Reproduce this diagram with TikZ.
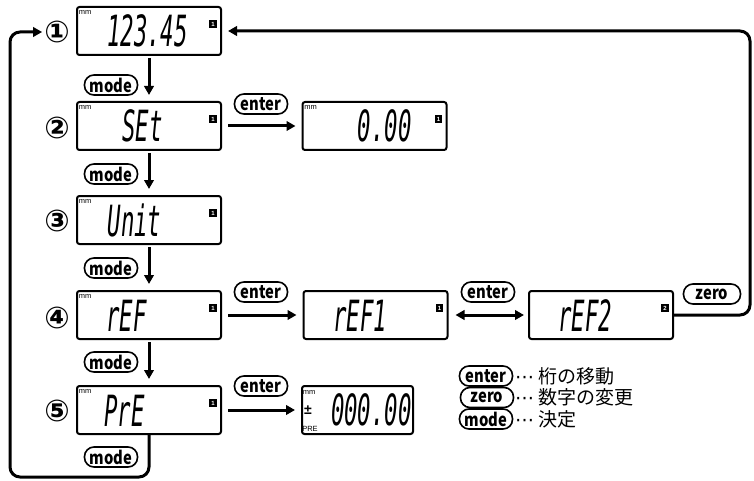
\documentclass[tikz,border=0pt]{standalone}
\usepackage{fontspec}
\setmainfont{Noto Sans CJK JP}
\newfontfamily\segfont{DejaVu Sans Mono}
\newfontfamily\labfont{Liberation Sans}
\newfontfamily\circfont{DejaVu Sans}
\usetikzlibrary{arrows.meta}
\newcommand{\segtxt}[1]{\scalebox{0.52}[1]{\segfont\fontsize{43}{43}\selectfont\itshape #1}}
\newcommand{\ptxt}[1]{\scalebox{0.82}[1]{#1}}
\tikzset{
  disp/.style={draw, line width=2pt, rounded corners=2.5pt, minimum width=144pt, minimum height=48pt, inner sep=0pt},
  pill/.style={draw, line width=1.6pt, rounded corners=9.5pt, minimum width=53pt, minimum height=20pt, inner sep=0.5pt, font=\bfseries\fontsize{18}{18}\selectfont},
  seg/.style={inner sep=0pt},
  ind/.style={fill=black, minimum size=7.5pt, inner sep=0pt, text=white, font=\labfont\bfseries\fontsize{6}{6}\selectfont},
  mmlab/.style={inner sep=0pt, font=\labfont\fontsize{7.5}{7.5}\selectfont},
  circnum/.style={inner sep=0pt, font=\circfont\bfseries\fontsize{30}{30}\selectfont},
  legtxt/.style={inner sep=0pt, anchor=west, font=\fontsize{19}{19}\selectfont},
  arr/.style={line width=3pt, -{Triangle[length=9pt,width=9.5pt]}},
  darr/.style={line width=3pt, {Triangle[length=9pt,width=9.5pt]}-{Triangle[length=9pt,width=9.5pt]}}
}
\begin{document}
\begin{tikzpicture}[x=1pt,y=-1pt]
\useasboundingbox (0,0) rectangle (754,481);

% displays
\node[disp] (d1) at (149,31) {};
\node[disp] (d2) at (149,126) {};
\node[disp] (d3) at (149,220) {};
\node[disp] (d4) at (149,315) {};
\node[disp] (d5) at (149,410) {};
\node[disp] (d2b) at (374.5,126) {};
\node[disp] (d4b) at (375.5,315) {};
\node[disp] (d4c) at (601,315) {};
\node[disp, minimum width=111pt] (d5b) at (357.5,410) {};

% mm labels
\node[mmlab] (m1) at ([shift={(9,6)}]d1.north west) {mm};
\node[mmlab] (m2) at ([shift={(9,6)}]d2.north west) {mm};
\node[mmlab] (m3) at ([shift={(9,6)}]d3.north west) {mm};
\node[mmlab] (m4) at ([shift={(9,6)}]d4.north west) {mm};
\node[mmlab] (m5) at ([shift={(9,6)}]d5.north west) {mm};
\node[mmlab] (m2b) at ([shift={(9,6)}]d2b.north west) {mm};
\node[mmlab] (m5b) at ([shift={(8,7)}]d5b.north west) {mm};
\node[inner sep=0pt, font=\labfont\bfseries\fontsize{14}{14}\selectfont] (pm5b) at ([shift={(7,0)}]d5b.west) {±};
\node[mmlab] (pre5b) at ([shift={(9,-6)}]d5b.south west) {PRE};

% indicators
\node[ind] (i1) at ([shift={(-9,18)}]d1.north east) {1};
\node[ind] (i2) at ([shift={(-9,18)}]d2.north east) {1};
\node[ind] (i3) at ([shift={(-9,18)}]d3.north east) {1};
\node[ind] (i4) at ([shift={(-9,18)}]d4.north east) {1};
\node[ind] (i5) at ([shift={(-9,18)}]d5.north east) {1};
\node[ind] (i2b) at ([shift={(-9,18)}]d2b.north east) {1};
\node[ind] (i4b) at ([shift={(-9,18)}]d4b.north east) {1};
\node[ind] (i4c) at ([shift={(-9,18)}]d4c.north east) {2};

% display texts
\node[seg] (t1) at (147.5,31) {\segtxt{123.45}};
\node[seg] (t2) at (142.5,126) {\segtxt{SEt}};
\node[seg] (t3) at (134.5,220) {\segtxt{Unit}};
\node[seg] (t4) at (126.5,316) {\segtxt{rEF}};
\node[seg] (t5) at (124.5,411) {\segtxt{PrE}};
\node[seg, anchor=east] (t2b) at (412,126) {\segtxt{0.00}};
\node[seg] (t4b) at (360,316) {\segtxt{rEF1}};
\node[seg] (t4c) at (585,316) {\segtxt{rEF2}};
\node[seg, anchor=east] (t5b) at (412,410) {\segtxt{000.00}};

% circled numbers
\node[circnum] (c1) at (57,32) {①};
\node[circnum] (c2) at (57,128) {②};
\node[circnum] (c3) at (57,221) {③};
\node[circnum] (c4) at (57,318) {④};
\node[circnum] (c5) at (57,411) {⑤};

% mode pills
\node[pill] (p1) at (111,85) {\ptxt{mode}};
\node[pill] (p2) at (111,174) {\ptxt{mode}};
\node[pill] (p3) at (111,268) {\ptxt{mode}};
\node[pill] (p4) at (111,362) {\ptxt{mode}};
\node[pill] (p5) at (111,457) {\ptxt{mode}};

% enter / zero pills
\node[pill] (e2) at (261,104) {\ptxt{enter}};
\node[pill] (e4) at (261,292) {\ptxt{enter}};
\node[pill] (e4b) at (488,292) {\ptxt{enter}};
\node[pill] (e5) at (261,386) {\ptxt{enter}};
\node[pill, minimum width=57pt] (z4) at (712,294) {\ptxt{zero}};

% vertical mode arrows
\draw[arr, shorten <=2pt, shorten >=6pt] (d1) -- (d2);
\draw[arr, shorten <=2pt, shorten >=6pt] (d2) -- (d3);
\draw[arr, shorten <=2pt, shorten >=6pt] (d3) -- (d4);
\draw[arr, shorten <=2pt, shorten >=6pt] (d4) -- (d5);

% horizontal arrows
\draw[arr, shorten <=6pt, shorten >=6pt] (d2) -- (d2b);
\draw[arr, shorten <=6pt, shorten >=6pt] (d4) -- (d4b);
\draw[darr, shorten <=7pt, shorten >=4pt] (d4b) -- (d4c);
\draw[arr, shorten <=6pt, shorten >=6pt] (d5) -- (d5b);

% loops
\coordinate (lb) at (10,477);
\coordinate (rb) at (750,0);
\draw[arr, rounded corners=10pt, shorten >=2pt] (d5.south) -- (d5.south |- lb) -- (lb) -- (lb |- c1) -- (c1.west);
\draw[arr, rounded corners=10pt, shorten >=6pt] (d4c.east) -- (d4c.east -| rb) -- (d1.east -| rb) -- (d1.east);

% legend
\node[pill] (l1) at (486,376) {\ptxt{enter}};
\node[pill] (l2) at (487,397.5) {\ptxt{zero}};
\node[pill] (l3) at (486,419) {\ptxt{mode}};
\node[legtxt] (l1t) at (515,376) {{\circfont ⋯} 桁の移動};
\node[legtxt] (l2t) at (515,397.5) {{\circfont ⋯} 数字の変更};
\node[legtxt] (l3t) at (515,419) {{\circfont ⋯} 決定};
\end{tikzpicture}
\end{document}
